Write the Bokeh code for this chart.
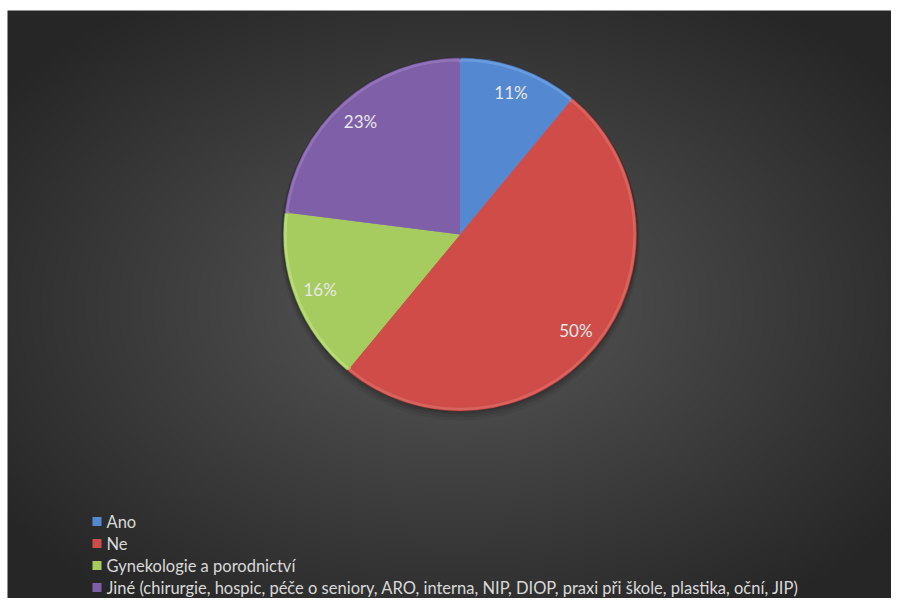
import numpy as np
from bokeh.plotting import figure
from bokeh.models import Range1d, ColumnDataSource
from bokeh.core.properties import value
from bokeh.embed import file_html
from bokeh.resources import INLINE

# ---- data ----
categories = ["Ano", "Ne", "Gynekologie a porodnictví",
              "Jiné (chirurgie, hospic, péče o seniory, ARO, interna, NIP, DIOP, praxi při škole, plastika, oční, JIP)"]
shares = [11, 50, 16, 23]
labels = ["11%", "50%", "16%", "23%"]
colors = ["#5489d1", "#cf4c48", "#a6cc5f", "#7f60a8"]
edge_colors = ["#78a8e8", "#e07470", "#c4e486", "#9c80c4"]

W, H = 891, 598
p = figure(width=W, height=H, output_backend="svg", toolbar_location=None,
           x_range=Range1d(0, W), y_range=Range1d(0, H), min_border=0)
p.axis.visible = False
p.grid.visible = False
p.outline_line_color = None
p.background_fill_color = "white"
p.border_fill_color = "white"

def Y(y_img):
    return H - y_img

# ---- background radial gradient (style only), chart area starts at x=7, y=10 ----
x0, y0 = 7, 10
bw, bh = W - x0, H - y0
xs = x0 + np.arange(bw) + 0.5
ys = np.arange(bh) + 0.5
Xg, Yg = np.meshgrid(xs, ys)
cx, cy = 453.0, Y(305.0)
d = np.sqrt(((Xg - cx) / 446.0) ** 2 + ((Yg - cy) / 298.0) ** 2)
v = np.clip(88 - 40 * d, 38, 255).astype(np.uint32)
img = (np.uint32(255) << 24) | (v << 16) | (v << 8) | v
p.image_rgba(image=[img.astype(np.uint32)], x=x0, y=0, dw=bw, dh=bh)

# ---- pie ----
CX, CY, R = 459.5, Y(234.0), 177.0
frac = np.array(shares, dtype=float) / sum(shares)
cum = np.concatenate([[0], np.cumsum(frac)])
start = np.pi / 2 - cum[:-1] * 2 * np.pi
end = np.pi / 2 - cum[1:] * 2 * np.pi
mid = (start + end) / 2

# shadow
for k, a in [(6, 0.06), (4, 0.08), (2, 0.10)]:
    p.circle(x=CX, y=CY - k, radius=R + k * 0.5, fill_color="black",
             fill_alpha=a, line_color=None)

src = ColumnDataSource(dict(start=start, end=end, color=colors, edge=edge_colors,
                            lx=CX + 0.85 * R * np.cos(mid), ly=CY + 0.85 * R * np.sin(mid),
                            label=labels))
p.wedge(x=CX, y=CY, radius=R, start_angle="start", end_angle="end",
        direction="clock", fill_color="color", line_color="#2a2a2a",
        line_alpha=0.6, line_width=1.2, source=src)
# bevel highlight
p.wedge(x=CX, y=CY, radius=R - 2.5, start_angle="start", end_angle="end",
        direction="clock", fill_color=None, line_color="edge",
        line_alpha=0.6, line_width=2.5, source=src)
p.wedge(x=CX, y=CY, radius=R - 5, start_angle="start", end_angle="end",
        direction="clock", fill_color="color", line_color=None, source=src)

p.text(x="lx", y="ly", text="label", source=src, text_align="center",
       text_baseline="middle", text_color="#e8e8e8", text_font_size="17px",
       text_font=value("Lato"))

# ---- legend (manual) ----
n = len(categories)
leg_y = [Y(521.0 + 22.0 * i) for i in range(n)]
leg = ColumnDataSource(dict(x=[96.5] * n, tx=[106] * n, y=leg_y, color=colors,
                            text=categories))
p.rect(x="x", y="y", width=9, height=9, fill_color="color",
       line_color=None, source=leg)
p.text(x="tx", y="y", text="text", source=leg, text_align="left",
       text_baseline="middle", text_color="#d9d9d9", text_font_size="16.5px",
       text_font=value("Lato"))

open("out.html", "w").write(file_html(p, INLINE))
